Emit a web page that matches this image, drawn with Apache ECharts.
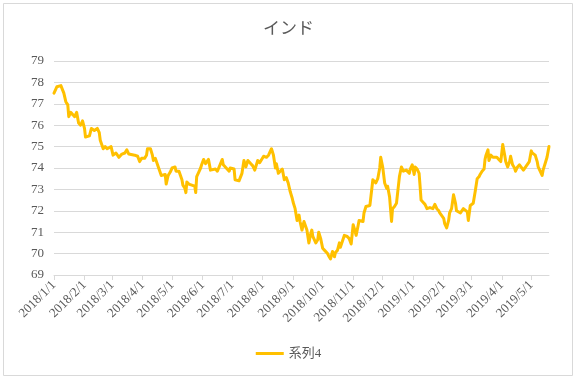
<!DOCTYPE html>
<html>
<head>
<meta charset="utf-8">
<script src="https://cdn.jsdelivr.net/npm/echarts@6/dist/echarts.min.js"></script>
<style>
html,body{margin:0;padding:0;background:#fff;}
#chart{width:577px;height:381px;}
</style>
</head>
<body>
<div id="chart"></div>
<script>
const titleText = 'インド';
const seriesName = '系列4';
const xTickLabels = ['2018/1/1','2018/2/1','2018/3/1','2018/4/1','2018/5/1','2018/6/1','2018/7/1','2018/8/1','2018/9/1','2018/10/1','2018/11/1','2018/12/1','2019/1/1','2019/2/1','2019/3/1','2019/4/1','2019/5/1'];
const xMin = '2018-01-01';
const xMax = '2019-05-19';
const yMin = 69, yMax = 79, yStep = 1;

const dates = [
'2018-01-01','2018-01-04','2018-01-08','2018-01-10','2018-01-11','2018-01-13','2018-01-15','2018-01-16','2018-01-18','2018-01-20',
'2018-01-22','2018-01-24','2018-01-26','2018-01-28','2018-01-30','2018-02-01','2018-02-02','2018-02-04','2018-02-06','2018-02-08',
'2018-02-11','2018-02-14','2018-02-16','2018-02-17','2018-02-19','2018-02-20','2018-02-22','2018-02-24','2018-02-26','2018-02-28',
'2018-03-02','2018-03-05','2018-03-08','2018-03-11','2018-03-14','2018-03-16','2018-03-18','2018-03-20','2018-03-24','2018-03-27',
'2018-03-29','2018-03-31','2018-04-03','2018-04-05','2018-04-06','2018-04-09','2018-04-11','2018-04-12','2018-04-14','2018-04-17',
'2018-04-20','2018-04-22','2018-04-24','2018-04-25','2018-04-27','2018-04-29','2018-05-01','2018-05-04','2018-05-05','2018-05-08',
'2018-05-11','2018-05-12','2018-05-14','2018-05-15','2018-05-16','2018-05-18','2018-05-21','2018-05-24','2018-05-25','2018-05-26',
'2018-05-28','2018-05-30','2018-05-31','2018-06-02','2018-06-04','2018-06-05','2018-06-07','2018-06-09','2018-06-11','2018-06-14',
'2018-06-16','2018-06-18','2018-06-21','2018-06-22','2018-06-25','2018-06-28','2018-06-29','2018-07-03','2018-07-04','2018-07-06',
'2018-07-08','2018-07-11','2018-07-13','2018-07-15','2018-07-17','2018-07-20','2018-07-22','2018-07-24','2018-07-27','2018-07-29',
'2018-07-31','2018-08-02','2018-08-05','2018-08-07','2018-08-09','2018-08-10','2018-08-12','2018-08-14','2018-08-15','2018-08-17',
'2018-08-19','2018-08-21','2018-08-23','2018-08-25','2018-08-27','2018-08-29','2018-08-31','2018-09-01','2018-09-03','2018-09-05',
'2018-09-07','2018-09-08','2018-09-10','2018-09-12','2018-09-14','2018-09-15','2018-09-17','2018-09-19','2018-09-20','2018-09-21',
'2018-09-24','2018-09-26','2018-09-27','2018-09-29','2018-10-01','2018-10-03','2018-10-06','2018-10-07','2018-10-09','2018-10-11',
'2018-10-13','2018-10-14','2018-10-16','2018-10-18','2018-10-19','2018-10-21','2018-10-23','2018-10-25','2018-10-26','2018-10-28',
'2018-10-30','2018-11-01','2018-11-02','2018-11-04','2018-11-06','2018-11-07','2018-11-09','2018-11-11','2018-11-12','2018-11-14',
'2018-11-16','2018-11-18','2018-11-19','2018-11-21','2018-11-23','2018-11-24','2018-11-26','2018-11-28','2018-11-29','2018-12-01',
'2018-12-03','2018-12-05','2018-12-06','2018-12-08','2018-12-10','2018-12-11','2018-12-13','2018-12-15','2018-12-17','2018-12-18',
'2018-12-20','2018-12-22','2018-12-24','2018-12-25','2018-12-27','2018-12-28','2018-12-29','2018-12-31','2019-01-01','2019-01-02',
'2019-01-03','2019-01-05','2019-01-07','2019-01-08','2019-01-09','2019-01-11','2019-01-13','2019-01-15','2019-01-16','2019-01-18',
'2019-01-20','2019-01-21','2019-01-23','2019-01-25','2019-01-27','2019-01-28','2019-01-30','2019-02-01','2019-02-02','2019-02-04',
'2019-02-06','2019-02-07','2019-02-09','2019-02-11','2019-02-13','2019-02-14','2019-02-16','2019-02-18','2019-02-19','2019-02-21',
'2019-02-23','2019-02-25','2019-02-26','2019-02-28','2019-03-02','2019-03-03','2019-03-05','2019-03-07','2019-03-09','2019-03-10',
'2019-03-12','2019-03-14','2019-03-15','2019-03-16','2019-03-18','2019-03-19','2019-03-21','2019-03-23','2019-03-25','2019-03-27',
'2019-03-29','2019-03-31','2019-04-01','2019-04-02','2019-04-04','2019-04-05','2019-04-07','2019-04-09','2019-04-10','2019-04-12',
'2019-04-14','2019-04-15','2019-04-17','2019-04-19','2019-04-21','2019-04-23','2019-04-25','2019-04-26','2019-04-29','2019-05-01',
'2019-05-02','2019-05-05','2019-05-07','2019-05-08','2019-05-10','2019-05-12','2019-05-13','2019-05-15','2019-05-17','2019-05-19'
];
const values = [
77.5,77.8,77.85,77.8,77.5,77.1,76.95,76.4,76.6,76.5,
76.4,76.6,76.1,76.0,76.2,75.85,75.45,75.4,75.5,75.85,
75.75,75.85,75.65,75.3,75.35,74.9,75.0,74.9,74.85,75.0,
74.6,74.7,74.5,74.65,74.7,74.85,74.65,74.6,74.6,74.55,
74.3,74.45,74.45,74.6,74.9,74.9,74.6,74.35,74.45,74.05,
73.65,73.6,73.7,73.25,73.65,73.8,74.0,74.05,73.85,73.85,
73.45,73.2,73.05,72.85,73.35,73.25,73.2,73.15,72.85,73.6,
73.8,74.0,74.15,74.4,74.2,74.25,74.4,73.9,73.9,73.95,
73.85,73.9,74.4,74.15,74.0,73.85,74.0,73.95,73.45,73.5,
73.4,73.75,74.35,74.05,74.35,74.2,74.1,73.9,74.35,74.25,
74.4,74.55,74.5,74.6,74.65,74.9,74.6,74.0,74.2,73.75,
73.8,73.95,73.45,73.55,73.3,72.9,72.6,72.4,72.1,71.55,
71.8,71.5,71.1,71.5,71.55,71.1,70.5,70.95,71.1,70.8,
70.5,70.65,71.0,70.7,70.25,70.15,70.0,69.9,69.75,70.1,
69.85,70.05,70.15,70.5,70.3,70.3,70.85,70.8,70.8,70.7,
70.45,71.35,71.2,70.85,71.3,71.55,71.55,71.5,71.9,72.2,
72.2,72.25,72.25,73.45,73.5,73.3,73.5,74.0,74.5,74.05,
73.3,73.05,73.15,72.65,71.5,72.1,72.2,72.35,72.4,73.6,
74.05,73.85,73.9,73.9,73.85,73.75,73.95,74.15,74.1,73.7,
74.05,73.95,73.75,73.15,72.5,72.4,72.3,72.1,72.1,72.15,
72.2,72.1,72.3,72.1,72.0,71.9,71.85,71.65,71.4,71.2,
71.55,71.9,72.1,72.75,72.35,72.0,71.95,71.9,71.95,72.1,
72.05,71.95,71.55,72.25,72.3,72.35,72.9,73.5,73.6,73.7,
73.85,73.95,74.4,74.6,74.85,74.35,74.6,74.5,74.55,74.5,
74.4,74.3,74.25,75.1,74.6,74.3,74.05,74.3,74.55,74.15,
74.0,73.85,74.05,74.15,74.1,73.9,73.85,74.1,74.3,74.8,
74.7,74.6,74.3,74.05,73.85,73.65,73.9,74.2,74.5,75.0
];

function parseTick(s){ const p = s.split('/').map(Number); return new Date(p[0], p[1]-1, p[2]).getTime(); }
function parseDate(s){ const p = s.split('-').map(Number); return new Date(p[0], p[1]-1, p[2]).getTime(); }
const tickValues = xTickLabels.map(parseTick);
const seriesData = dates.map((d,i)=>[parseDate(d), values[i]]);

const chart = echarts.init(document.getElementById('chart'), null, {renderer:'canvas'});
const gray = '#595959';
const serif = '"Liberation Serif","DejaVu Serif",serif';
chart.setOption({
  animation:false,
  backgroundColor:'#ffffff',
  title:{
    text:titleText, left:'center', top:14,
    textStyle:{fontFamily:'"Noto Sans CJK JP",sans-serif', fontSize:17, fontWeight:'normal', color:gray}
  },
  legend:{
    bottom:16, left:'center',
    itemWidth:28, itemHeight:3, icon:'rect', itemGap:4,
    textStyle:{fontFamily:'"Liberation Serif","Noto Sans CJK JP",serif', fontSize:13, color:gray},
    data:[seriesName]
  },
  grid:{left:54, right:28, top:61, bottom:106, containLabel:false},
  xAxis:{
    type:'value',
    min:parseDate(xMin), max:parseDate(xMax),
    axisLine:{show:true, lineStyle:{color:'#d9d9d9', width:1}},
    axisTick:{show:true, customValues:tickValues, length:5, lineStyle:{color:'#d9d9d9'}},
    axisLabel:{
      customValues:tickValues, rotate:45, margin:8,
      fontFamily:serif, fontSize:13, color:gray,
      formatter:function(v){ const d=new Date(v); return d.getFullYear()+'/'+(d.getMonth()+1)+'/'+d.getDate(); }
    },
    splitLine:{show:false}
  },
  yAxis:{
    type:'value', min:yMin, max:yMax, interval:yStep,
    axisLine:{show:false}, axisTick:{show:false},
    axisLabel:{fontFamily:serif, fontSize:13, color:gray, margin:10},
    splitLine:{lineStyle:{color:'#d9d9d9', width:1}}
  },
  graphic:[{
    type:'rect', silent:true, z:-1,
    shape:{x:3.5, y:3.5, width:569, height:372},
    style:{fill:null, stroke:'#d9d9d9', lineWidth:1}
  }],
  series:[{
    name:seriesName, type:'line', data:seriesData,
    showSymbol:false, symbol:'none',
    lineStyle:{color:'#FFC000', width:3, join:'round', cap:'round'},
    itemStyle:{color:'#FFC000'}
  }]
});
</script>
</body>
</html>
